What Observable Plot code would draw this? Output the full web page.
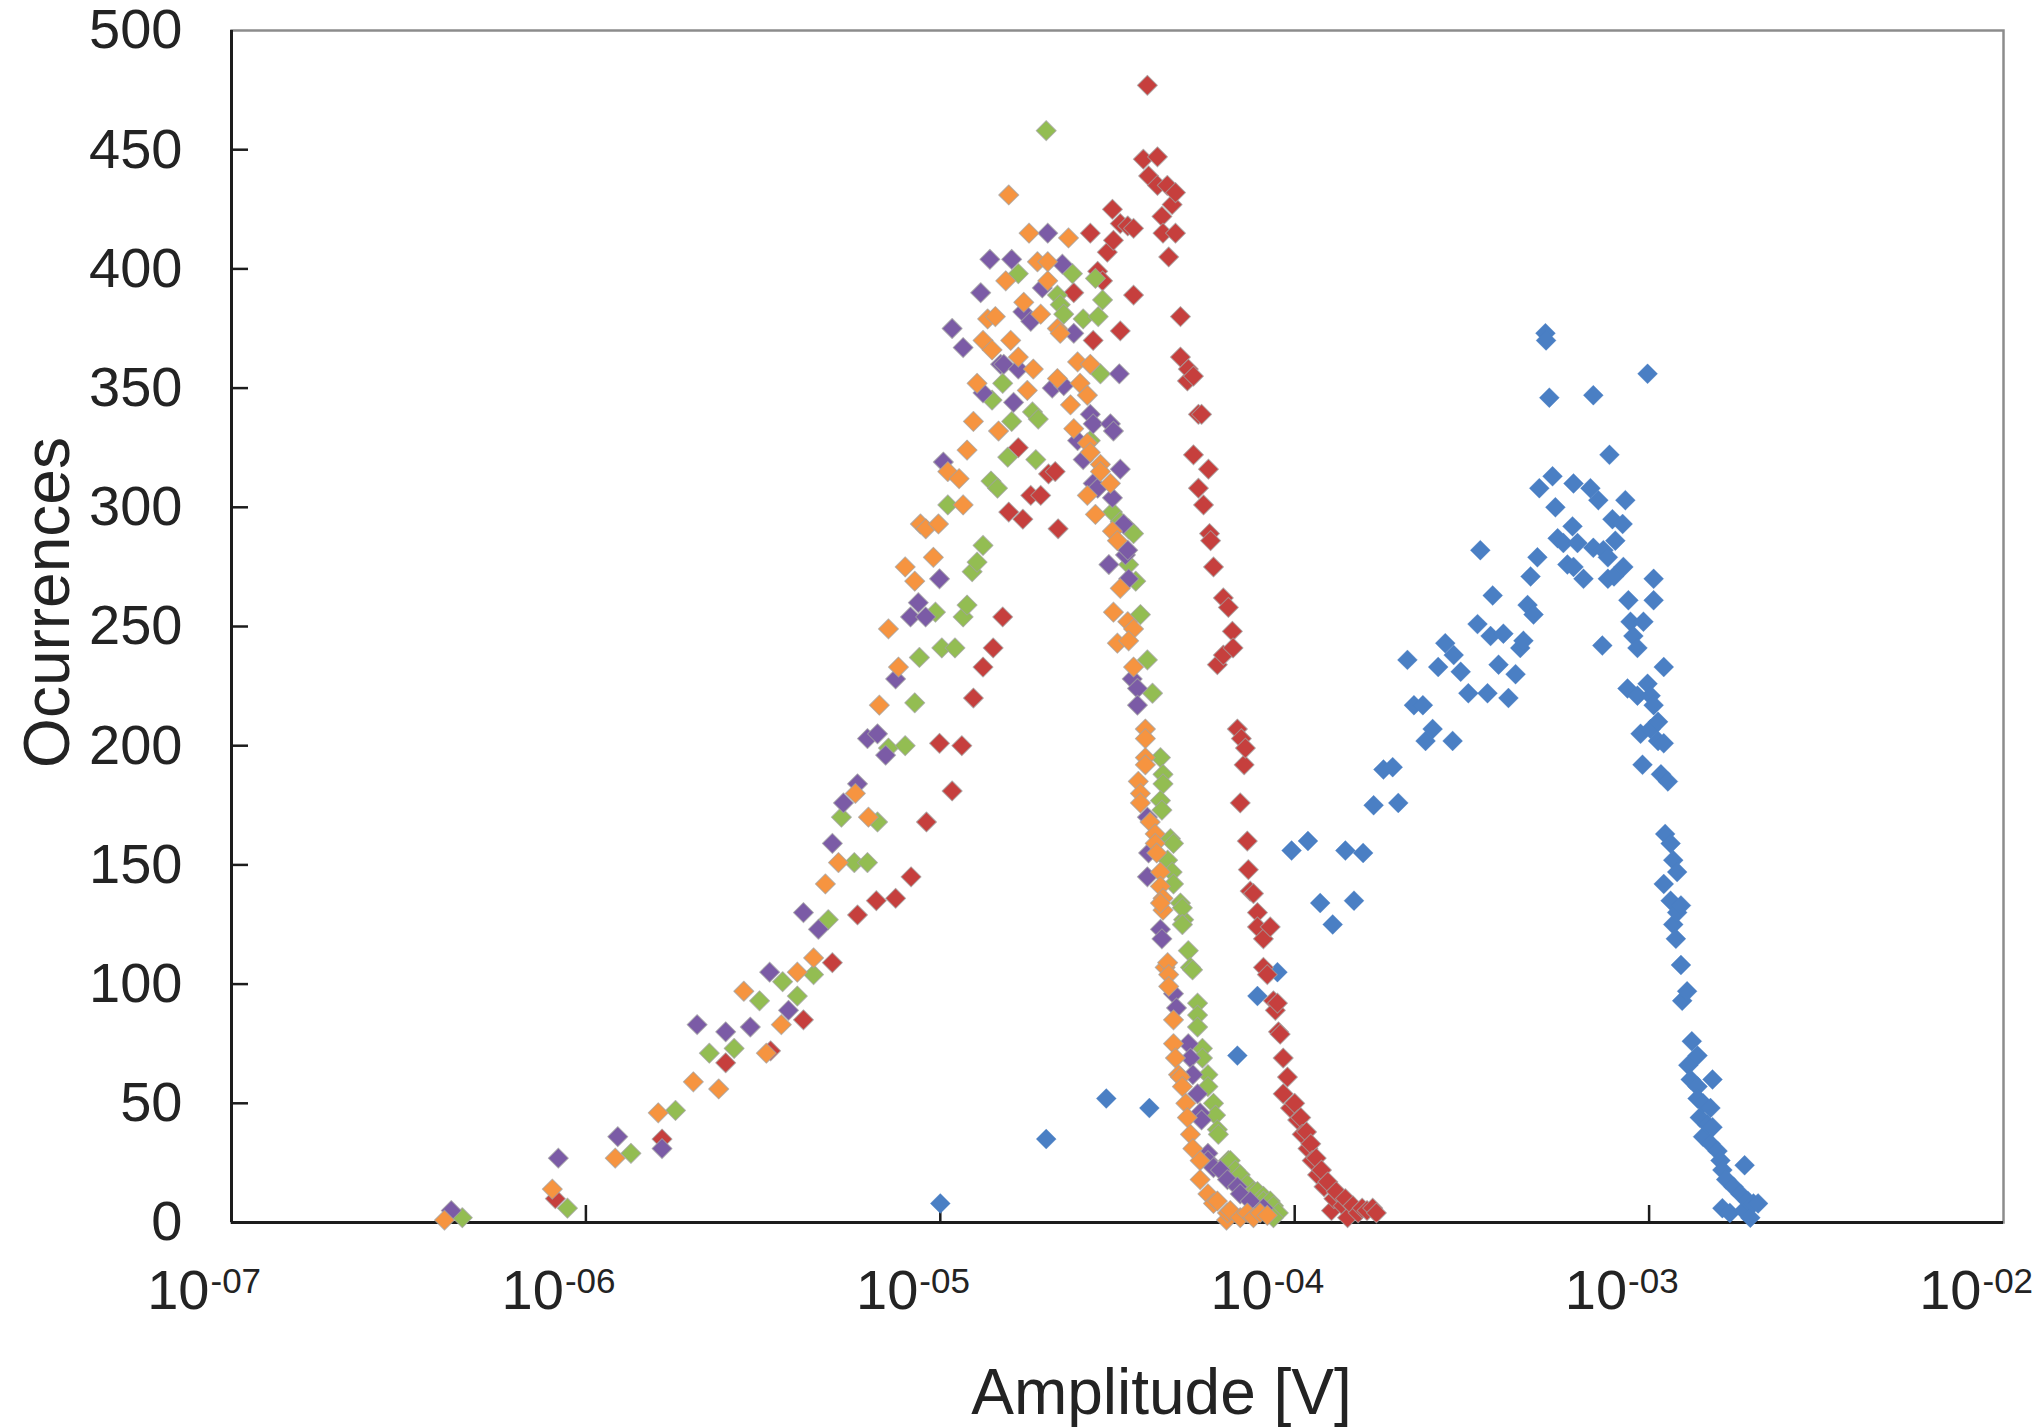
<!DOCTYPE html>
<html>
<head>
<meta charset="utf-8">
<script src="https://cdn.jsdelivr.net/npm/d3@7"></script>
<script src="https://cdn.jsdelivr.net/npm/@observablehq/plot@0.6"></script>
<style>
  html, body { margin: 0; padding: 0; background: #ffffff; }
  #chart { width: 2038px; height: 1428px; }
</style>
</head>
<body>
<div id="chart"></div>
<script>
// [amplitude (V), occurrences] pairs, one array per series
const blue = [
  [1.00e-5,8],[1.99e-5,35],[2.94e-5,52],[3.89e-5,48],[6.89e-5,70],[7.85e-5,95],[8.94e-5,105],
  [9.80e-5,156],[1.09e-4,160],[1.18e-4,134],[1.28e-4,125],[1.39e-4,156],[1.47e-4,135],[1.56e-4,155],
  [1.67e-4,175],[1.78e-4,190],[1.89e-4,191],[1.96e-4,176],[2.08e-4,236],[2.17e-4,217],[2.30e-4,217],
  [2.34e-4,202],[2.45e-4,207],[2.54e-4,233],[2.66e-4,243],[2.79e-4,202],[2.81e-4,238],[2.94e-4,231],
  [3.09e-4,222],[3.28e-4,251],[3.34e-4,282],[3.50e-4,222],[3.57e-4,246],[3.62e-4,263],[3.76e-4,234],
  [3.88e-4,247],[4.01e-4,220],[4.20e-4,230],[4.33e-4,241],[4.42e-4,244],[4.54e-4,259],[4.63e-4,271],
  [4.72e-4,255],[4.84e-4,279],[4.90e-4,308],[5.10e-4,373],[5.12e-4,370],[5.23e-4,346],[5.34e-4,313],
  [5.44e-4,300],[5.52e-4,287],[5.73e-4,285],[5.88e-4,276],[6.08e-4,292],[6.12e-4,310],[6.12e-4,275],
  [6.28e-4,285],[6.53e-4,270],[6.83e-4,308],[6.96e-4,347],[6.96e-4,283],[7.19e-4,303],[7.38e-4,242],
  [7.43e-4,282],[7.65e-4,279],[7.65e-4,270],[7.73e-4,322],[7.88e-4,295],[7.96e-4,271],[8.03e-4,286],
  [8.42e-4,293],[8.46e-4,275],[8.57e-4,303],[8.69e-4,224],[8.74e-4,261],[8.86e-4,252],[9.03e-4,246],
  [9.27e-4,241],[9.27e-4,221],[9.46e-4,205],[9.58e-4,192],[9.64e-4,252],[9.90e-4,356],[9.90e-4,226],
  [1.01e-3,221],[1.01e-3,207],[1.03e-3,270],[1.03e-3,261],[1.03e-3,217],[1.06e-3,210],[1.06e-3,202],
  [1.08e-3,188],[1.10e-3,233],[1.10e-3,201],[1.10e-3,142],[1.11e-3,163],[1.13e-3,185],[1.15e-3,159],
  [1.15e-3,135],[1.17e-3,152],[1.17e-3,125],[1.19e-3,119],[1.20e-3,147],[1.20e-3,130],[1.23e-3,133],
  [1.23e-3,108],[1.24e-3,93],[1.28e-3,97],[1.29e-3,66],[1.31e-3,60],[1.32e-3,76],[1.37e-3,70],
  [1.37e-3,57],[1.37e-3,52],[1.39e-3,44],[1.42e-3,50],[1.42e-3,36],[1.46e-3,41],[1.49e-3,48],
  [1.49e-3,33],[1.51e-3,60],[1.51e-3,40],[1.56e-3,30],[1.59e-3,26],[1.61e-3,22],[1.61e-3,6],
  [1.65e-3,18],[1.69e-3,4],[1.73e-3,15],[1.81e-3,12],[1.85e-3,5],[1.86e-3,24],[1.90e-3,9],
  [1.93e-3,2],[1.97e-3,8],[2.03e-3,8]
];
const red = [
  [8.20e-7,10],[1.64e-6,35],[2.48e-6,67],[3.32e-6,72],[4.11e-6,85],[4.96e-6,109],[5.84e-6,129],
  [6.60e-6,135],[7.48e-6,136],[8.27e-6,145],[9.14e-6,168],[9.95e-6,201],[1.08e-5,181],[1.15e-5,200],
  [1.24e-5,220],[1.32e-5,233],[1.41e-5,241],[1.50e-5,254],[1.56e-5,298],[1.66e-5,325],[1.71e-5,295],
  [1.80e-5,305],[1.92e-5,305],[2.02e-5,314],[2.11e-5,315],[2.15e-5,291],[2.38e-5,390],[2.65e-5,415],
  [2.70e-5,370],[2.78e-5,399],[2.87e-5,395],[2.96e-5,407],[3.06e-5,425],[3.08e-5,412],[3.22e-5,419],
  [3.22e-5,374],[3.38e-5,418],[3.51e-5,417],[3.51e-5,389],[3.74e-5,446],[3.84e-5,477],[3.87e-5,439],
  [4.10e-5,447],[4.10e-5,435],[4.22e-5,422],[4.25e-5,415],[4.37e-5,435],[4.41e-5,405],[4.51e-5,427],
  [4.61e-5,432],[4.61e-5,415],[4.76e-5,380],[4.76e-5,363],[4.98e-5,353],[5.01e-5,358],[5.18e-5,355],
  [5.18e-5,322],[5.35e-5,339],[5.35e-5,308],[5.46e-5,339],[5.53e-5,301],[5.71e-5,316],[5.75e-5,289],
  [5.79e-5,286],[5.90e-5,275],[6.05e-5,234],[6.29e-5,262],[6.29e-5,238],[6.50e-5,258],[6.67e-5,248],
  [6.70e-5,241],[6.89e-5,207],[7.02e-5,176],[7.07e-5,203],[7.20e-5,192],[7.26e-5,199],[7.35e-5,160],
  [7.40e-5,148],[7.49e-5,139],[7.65e-5,138],[7.85e-5,130],[7.85e-5,124],[8.16e-5,119],[8.16e-5,107],
  [8.37e-5,104],[8.53e-5,124],[8.71e-5,93],[8.82e-5,89],[8.94e-5,92],[9.00e-5,80],[9.10e-5,79],
  [9.28e-5,69],[9.54e-5,61],[9.28e-5,54],[9.73e-5,48],[1.00e-4,50],[1.02e-4,43],[1.04e-4,44],
  [1.05e-4,37],[1.08e-4,38],[1.09e-4,31],[1.11e-4,33],[1.12e-4,26],[1.15e-4,27],[1.16e-4,20],
  [1.19e-4,22],[1.21e-4,15],[1.24e-4,17],[1.27e-4,5],[1.29e-4,10],[1.31e-4,13],[1.37e-4,7],
  [1.39e-4,10],[1.41e-4,2],[1.46e-4,7],[1.51e-4,4],[1.55e-4,6],[1.60e-4,5],[1.66e-4,6],[1.70e-4,4]
];
const green = [
  [4.48e-7,2],[8.87e-7,6],[1.34e-6,29],[1.79e-6,47],[2.23e-6,71],[2.62e-6,73],[3.09e-6,93],
  [3.59e-6,101],[3.95e-6,95],[4.39e-6,104],[4.83e-6,127],[5.26e-6,170],[5.72e-6,151],[6.23e-6,151],
  [6.65e-6,168],[7.14e-6,199],[7.96e-6,200],[8.47e-6,218],[8.73e-6,237],[9.69e-6,256],[1.01e-5,241],
  [1.05e-5,301],[1.10e-5,241],[1.16e-5,254],[1.19e-5,259],[1.23e-5,273],[1.27e-5,277],[1.32e-5,284],
  [1.39e-5,311],[1.40e-5,345],[1.45e-5,308],[1.50e-5,352],[1.55e-5,321],[1.59e-5,336],[1.66e-5,398],
  [1.82e-5,340],[1.86e-5,320],[1.89e-5,337],[1.99e-5,458],[2.14e-5,389],[2.18e-5,385],[2.23e-5,381],
  [2.36e-5,398],[2.53e-5,379],[2.65e-5,328],[2.74e-5,396],[2.79e-5,380],[2.83e-5,356],[2.87e-5,387],
  [3.06e-5,298],[3.22e-5,294],[3.40e-5,291],[3.40e-5,276],[3.51e-5,289],[3.56e-5,269],[3.67e-5,255],
  [3.84e-5,236],[3.97e-5,222],[4.18e-5,195],[4.25e-5,188],[4.25e-5,184],[4.18e-5,177],[4.22e-5,173],
  [4.46e-5,161],[4.55e-5,159],[4.38e-5,152],[4.51e-5,147],[4.55e-5,142],[4.76e-5,134],[4.86e-5,127],
  [4.82e-5,132],[4.82e-5,125],[5.01e-5,114],[5.08e-5,107],[5.15e-5,106],[5.32e-5,92],[5.32e-5,87],
  [5.32e-5,82],[5.49e-5,73],[5.49e-5,69],[5.69e-5,62],[5.69e-5,57],[5.90e-5,50],[5.98e-5,45],
  [6.05e-5,39],[6.09e-5,37],[6.50e-5,26],[6.58e-5,26],[6.80e-5,22],[7.02e-5,20],[7.35e-5,16],
  [7.65e-5,13],[7.85e-5,13],[8.16e-5,11],[8.16e-5,9],[8.53e-5,9],[8.71e-5,7],[8.99e-5,4],[8.71e-5,2]
];
const purple = [
  [4.17e-7,5],[8.36e-7,27],[1.23e-6,36],[1.64e-6,31],[2.06e-6,83],[2.48e-6,80],[2.91e-6,82],
  [3.30e-6,105],[3.73e-6,89],[4.11e-6,130],[4.53e-6,123],[4.96e-6,159],[5.33e-6,176],[5.84e-6,184],
  [6.23e-6,203],[6.65e-6,205],[7.01e-6,196],[7.48e-6,228],[8.24e-6,254],[8.67e-6,260],[9.09e-6,254],
  [9.95e-6,270],[1.02e-5,319],[1.08e-5,375],[1.16e-5,367],[1.30e-5,390],[1.32e-5,348],[1.38e-5,404],
  [1.48e-5,360],[1.51e-5,360],[1.59e-5,404],[1.61e-5,344],[1.66e-5,358],[1.71e-5,382],[1.80e-5,378],
  [1.94e-5,392],[2.01e-5,415],[2.07e-5,350],[2.21e-5,402],[2.23e-5,351],[2.38e-5,373],[2.44e-5,328],
  [2.53e-5,320],[2.65e-5,339],[2.70e-5,335],[2.70e-5,310],[2.78e-5,308],[2.99e-5,276],[3.02e-5,335],
  [3.06e-5,304],[3.08e-5,332],[3.20e-5,356],[3.22e-5,316],[3.29e-5,293],[3.33e-5,280],[3.38e-5,282],
  [3.40e-5,270],[3.48e-5,228],[3.60e-5,224],[3.60e-5,217],[3.84e-5,170],[3.87e-5,155],[3.84e-5,145],
  [4.18e-5,123],[4.22e-5,119],[4.55e-5,96],[4.64e-5,90],[5.01e-5,75],[5.08e-5,69],[5.16e-5,62],
  [5.32e-5,54],[5.41e-5,46],[5.46e-5,43],[5.69e-5,29],[5.69e-5,26],[5.90e-5,23],[6.17e-5,22],
  [6.46e-5,18],[6.89e-5,15],[7.02e-5,12],[7.49e-5,9],[8.16e-5,6]
];
const orange = [
  [3.99e-7,1],[8.04e-7,14],[1.21e-6,27],[1.60e-6,46],[2.01e-6,59],[2.37e-6,56],[2.79e-6,97],
  [3.23e-6,71],[3.56e-6,83],[3.95e-6,105],[4.39e-6,111],[4.74e-6,142],[5.16e-6,151],[5.76e-6,180],
  [6.27e-6,170],[6.73e-6,217],[7.14e-6,249],[7.62e-6,233],[7.96e-6,275],[8.47e-6,269],[8.79e-6,293],
  [9.10e-6,291],[9.56e-6,279],[9.88e-6,293],[1.05e-5,315],[1.13e-5,312],[1.16e-5,301],[1.19e-5,324],
  [1.24e-5,336],[1.27e-5,352],[1.32e-5,370],[1.36e-5,379],[1.40e-5,366],[1.43e-5,380],[1.46e-5,332],
  [1.53e-5,395],[1.56e-5,431],[1.58e-5,370],[1.66e-5,363],[1.72e-5,386],[1.76e-5,349],[1.78e-5,415],
  [1.83e-5,358],[1.88e-5,403],[1.92e-5,381],[2.01e-5,395],[2.01e-5,403],[2.14e-5,354],[2.14e-5,375],
  [2.18e-5,373],[2.30e-5,413],[2.33e-5,343],[2.38e-5,333],[2.44e-5,361],[2.48e-5,352],[2.60e-5,347],
  [2.60e-5,327],[2.60e-5,305],[2.65e-5,360],[2.65e-5,323],[2.74e-5,297],[2.83e-5,318],[2.83e-5,315],
  [3.02e-5,310],[3.06e-5,290],[3.16e-5,286],[3.08e-5,256],[3.38e-5,252],[3.51e-5,249],[3.16e-5,243],
  [3.40e-5,244],[3.22e-5,266],[3.51e-5,233],[3.79e-5,207],[3.79e-5,203],[3.79e-5,195],[3.79e-5,192],
  [3.62e-5,185],[3.67e-5,180],[3.67e-5,176],[3.91e-5,168],[4.04e-5,163],[4.04e-5,159],[4.08e-5,155],
  [4.18e-5,147],[4.18e-5,141],[4.25e-5,136],[4.25e-5,131],[4.18e-5,134],[4.31e-5,107],[4.38e-5,109],
  [4.41e-5,104],[4.41e-5,99],[4.55e-5,85],[4.55e-5,75],[4.61e-5,69],[4.70e-5,62],[4.76e-5,61],
  [4.82e-5,57],[4.93e-5,50],[4.98e-5,44],[5.08e-5,37],[5.16e-5,31],[5.41e-5,26],[5.41e-5,18],
  [5.69e-5,12],[5.90e-5,8],[6.05e-5,9],[6.42e-5,1],[6.46e-5,4],[6.58e-5,5],[7.02e-5,2],[7.35e-5,4],
  [7.65e-5,2],[7.99e-5,4],[8.37e-5,3]
];

const seriesNames = ["blue", "red", "green", "purple", "orange"];
const seriesColors = ["#4a7fc4", "#c63f3d", "#93bd52", "#7b5ba6", "#f69440"];
const seriesData = [blue, red, green, purple, orange];

const yTickValues = [0, 50, 100, 150, 200, 250, 300, 350, 400, 450, 500];
const yTickLabels = ["0", "50", "100", "150", "200", "250", "300", "350", "400", "450", "500"];
const xTickValues = [1e-7, 1e-6, 1e-5, 1e-4, 1e-3, 1e-2];
const xTickBase = ["10", "10", "10", "10", "10", "10"];
const xTickExp = ["-07", "-06", "-05", "-04", "-03", "-02"];
const xTitle = "Amplitude [V]";
const yTitle = "Ocurrences";

const W = 2038, H = 1428;
const mL = 231, mR = 35, mT = 30, mB = 206;
const plotW = W - mL - mR, plotH = H - mT - mB;
const textColor = "#232323";

const dotMarks = seriesData.map((arr, i) => Plot.dot(
  arr.map(([a, c]) => ({amp: a, count: c, series: seriesNames[i]})),
  {
    x: "amp", y: "count", symbol: "diamond2", r: 9,
    fill: seriesColors[i],
    stroke: i === 0 ? seriesColors[i] : "#a3a3a3",
    strokeWidth: i === 0 ? 0.6 : 1.1, strokeOpacity: i === 0 ? 0.5 : 0.7,
    strokeLinejoin: "round"
  }
));

const chart = Plot.plot({
  width: W, height: H,
  marginLeft: mL, marginRight: mR, marginTop: mT, marginBottom: mB,
  style: {background: "#ffffff", fontFamily: "'Liberation Sans', Arial, sans-serif", color: textColor, overflow: "visible"},
  x: {type: "log", domain: [1e-7, 1e-2], axis: null},
  y: {domain: [0, 500], axis: null},
  marks: [
    Plot.frame({stroke: "#8c8c8c", strokeWidth: 2.5}),
    Plot.ruleX([1e-7], {stroke: "#1c1c1c", strokeWidth: 3}),
    Plot.ruleY([0], {stroke: "#1c1c1c", strokeWidth: 3}),
    Plot.tickY(yTickValues.slice(1, -1), {y: d => d, insetRight: plotW - 17, stroke: "#1c1c1c", strokeWidth: 2.5}),
    Plot.tickX(xTickValues.slice(1, -1), {x: d => d, insetTop: plotH - 17, stroke: "#1c1c1c", strokeWidth: 2.5}),
    ...dotMarks,
    Plot.text(yTickValues, {y: d => d, frameAnchor: "left", text: (d, i) => yTickLabels[i], textAnchor: "end", dx: -49, fontSize: 56, fill: textColor}),
    Plot.text(xTickValues, {x: d => d, frameAnchor: "bottom", text: (d, i) => xTickBase[i], textAnchor: "end", lineAnchor: "bottom", dx: -22, dy: 86, fontSize: 56, fill: textColor}),
    Plot.text(xTickValues, {x: d => d, frameAnchor: "bottom", text: (d, i) => xTickExp[i], textAnchor: "start", lineAnchor: "bottom", dx: -21, dy: 70, fontSize: 35, fill: textColor}),
    Plot.text([xTitle], {frameAnchor: "bottom", text: d => d, textAnchor: "middle", lineAnchor: "bottom", dx: 44, dy: 191, fontSize: 64, fill: textColor}),
    Plot.text([yTitle], {frameAnchor: "left", text: d => d, textAnchor: "middle", rotate: -90, lineAnchor: "bottom", dx: -163, dy: -24, fontSize: 64, fill: textColor})
  ]
});
document.getElementById("chart").appendChild(chart);
</script>
</body>
</html>
